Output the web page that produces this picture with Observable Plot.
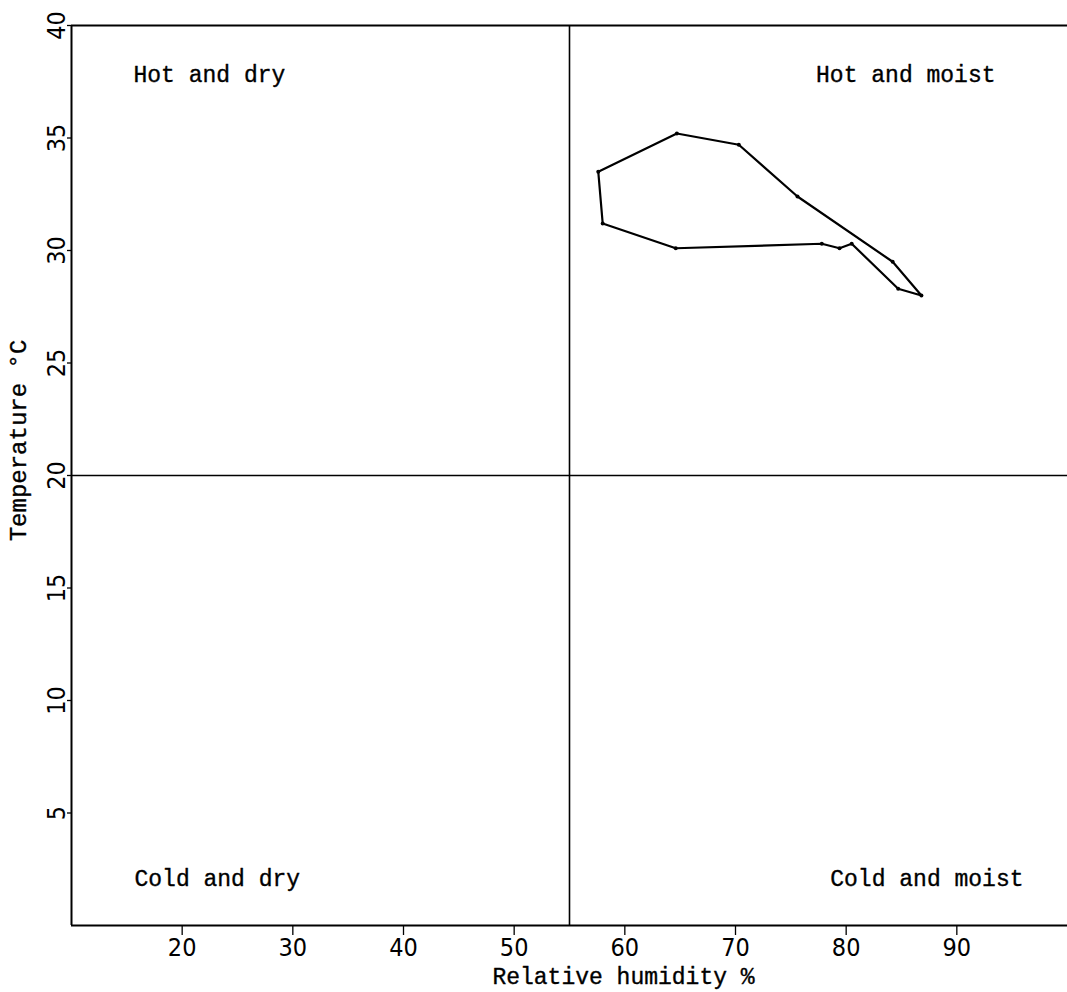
<!DOCTYPE html>
<html><head><meta charset="utf-8">
<script src="https://cdn.jsdelivr.net/npm/d3@7"></script>
<script src="https://cdn.jsdelivr.net/npm/@observablehq/plot@0.6"></script>
<style>body{margin:0;background:#fff}</style>
</head><body><div id="chart"></div>
<script>
// Monthly climograph points (relative humidity %, temperature °C)
const humidity    = [57.6, 64.7, 70.3, 75.6, 84.2, 86.8, 84.7, 80.5, 79.4, 77.8, 64.6, 58.0];
const temperature = [33.5, 35.2, 34.7, 32.4, 29.5, 28.0, 28.3, 30.3, 30.1, 30.3, 30.1, 31.2];
const xTicks = [20, 30, 40, 50, 60, 70, 80, 90];
const yTicks = [5, 10, 15, 20, 25, 30, 35, 40];
const quadrantLabels = ["Hot and dry", "Hot and moist", "Cold and dry", "Cold and moist"];
const dividerHumidity = [55];
const dividerTemperature = [20];
const xLabel = "Relative humidity %";
const yLabel = "Temperature °C";

const points = humidity.map((h, i) => ({h, t: temperature[i]}));
const typeFont = "'Liberation Mono', 'DejaVu Sans Mono', monospace";
const tickFont = "'Liberation Sans Narrow', 'DejaVu Sans Condensed', 'Liberation Sans', sans-serif";
const typeStyle = {fontFamily: typeFont, fontSize: 23, fill: "black", stroke: "black", strokeWidth: 0.35, lineAnchor: "middle"};

const chart = Plot.plot({
  width: 1067, height: 992,
  marginLeft: 71, marginRight: 0, marginTop: 25, marginBottom: 67,
  x: {domain: [10, 100]},
  y: {domain: [0, 40]},
  style: {background: "white", color: "black"},
  marks: [
    Plot.ruleX([10], {stroke: "black", strokeWidth: 2}),
    Plot.ruleY([0], {stroke: "black", strokeWidth: 2}),
    Plot.ruleY([40], {stroke: "black", strokeWidth: 2}),
    Plot.ruleX(dividerHumidity, {stroke: "black", strokeWidth: 1.6}),
    Plot.ruleY(dividerTemperature, {stroke: "black", strokeWidth: 1.6}),
    Plot.axisX(xTicks, {tickSize: 10, tickPadding: 3, strokeWidth: 1.3, fontSize: 25, fontFamily: tickFont, label: null}),
    Plot.axisY(yTicks, {tickSize: 4, strokeWidth: 1.3, tickFormat: () => "", label: null}),
    Plot.text(yTicks, {x: 10, y: d => d, text: d => String(d), rotate: -90, dx: -15, fontSize: 25, fontFamily: tickFont, fill: "black"}),
    Plot.line(points, {x: "h", y: "t", curve: "linear-closed", stroke: "black", strokeWidth: 2.2}),
    Plot.dot(points, {x: "h", y: "t", r: 2, fill: "black"}),
    Plot.text([quadrantLabels[0]], {frameAnchor: "top-left", textAnchor: "start", dx: 62, dy: 49, ...typeStyle}),
    Plot.text([quadrantLabels[1]], {frameAnchor: "top-right", textAnchor: "end", dx: -72, dy: 49, ...typeStyle}),
    Plot.text([quadrantLabels[2]], {frameAnchor: "bottom-left", textAnchor: "start", dx: 63, dy: -47, ...typeStyle}),
    Plot.text([quadrantLabels[3]], {frameAnchor: "bottom-right", textAnchor: "end", dx: -44, dy: -47, ...typeStyle}),
    Plot.text([xLabel], {frameAnchor: "bottom", textAnchor: "middle", dx: 54, dy: 51, ...typeStyle}),
    Plot.text([yLabel], {frameAnchor: "left", textAnchor: "middle", rotate: -90, dx: -53, dy: -35, ...typeStyle, fontSize: 24})
  ]
});
document.getElementById("chart").appendChild(chart);
</script>
</body></html>
